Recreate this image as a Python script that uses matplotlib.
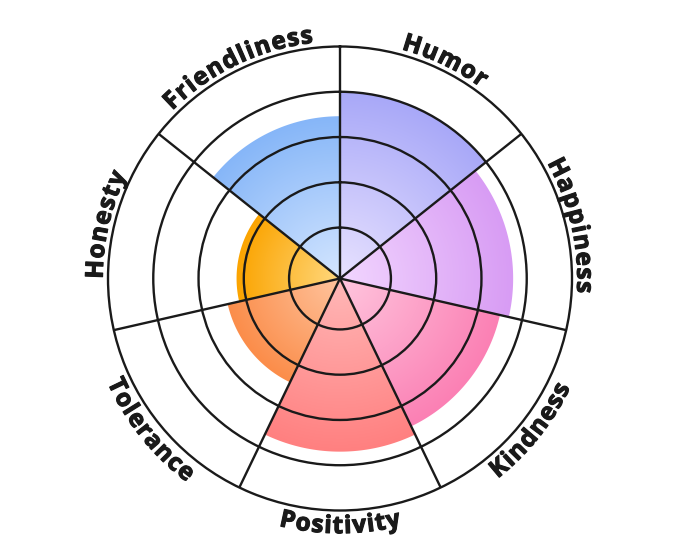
import numpy as np
import matplotlib
matplotlib.use('Agg')
import matplotlib.pyplot as plt
import matplotlib.patheffects as pe
from matplotlib import font_manager
from matplotlib.ft2font import FT2Font
from matplotlib.colors import to_rgb
from matplotlib.path import Path

# polar area chart, values on a 0-5 scale (rings at 1..5)
categories = ['Humor', 'Happiness', 'Kindness', 'Positivity', 'Tolerance', 'Honesty', 'Friendliness']
values = [4.0, 3.7, 3.5, 3.7, 2.42, 2.16, 3.46]
outer_colors = ['#a8a8f8', '#d89cf4', '#fb80b4', '#ff8080', '#fb8d4a', '#fba400', '#86b6f8']
inner_colors = ['#e8e2ff', '#f2d6ff', '#ffc6de', '#ffb8b8', '#ffc49e', '#ffd87e', '#d4e6ff']
rings = [1, 2, 3, 4]
r_max = 5
r_min = -0.125   # scale does not start exactly at the centre

W, H, DPI = 680, 557, 100
cx, cy, R = 340, 557 - 278.5, 232   # centre and outer radius in pixels
line_col = '#1a1a1a'

fig = plt.figure(figsize=(W / DPI, H / DPI), dpi=DPI)
rect = [(cx - R) / W, (cy - R) / H, 2 * R / W, 2 * R / H]

# background axes for the gradients and the curved labels
bg = fig.add_axes(rect)
bg.set_xlim(-1, 1)
bg.set_ylim(-1, 1)
bg.axis('off')

ax = fig.add_axes(rect, projection='polar')
ax.set_facecolor('none')
ax.set_theta_zero_location('N')
ax.set_theta_direction(-1)
ax.set_rlim(r_min, r_max)

n = len(categories)
width = 2 * np.pi / n
theta = np.arange(n) * width + width / 2
bars = ax.bar(theta, np.array(values) - r_min, width=width, bottom=r_min,
              color='none', linewidth=0)

# radial gradient for each bar, clipped to the bar's wedge
g = np.linspace(-1, 1, 700)
X, Y = np.meshgrid(g, g)
rr = np.hypot(X, Y)
for th, v, c_in, c_out in zip(theta, values, inner_colors, outer_colors):
    rb = (v - r_min) / (r_max - r_min)
    t = np.clip(rr / rb, 0, 1)[..., None]
    img = np.array(to_rgb(c_in)) + (np.array(to_rgb(c_out)) - np.array(to_rgb(c_in))) * t
    im = bg.imshow(img, extent=(-1, 1, -1, 1), origin='lower', interpolation='bilinear')
    a = np.linspace(th - width / 2, th + width / 2, 120)
    verts = np.vstack([[0, 0], np.column_stack([rb * np.sin(a), rb * np.cos(a)]), [0, 0]])
    im.set_clip_path(Path(verts, closed=True), transform=bg.transData)

ax.set_yticks(rings)
ax.set_yticklabels([])
ax.set_xticks(np.arange(n) * width)
ax.set_xticklabels([])
ax.tick_params(length=0)
ax.grid(True, color=line_col, linewidth=1.7)
ax.spines['polar'].set_color(line_col)
ax.spines['polar'].set_linewidth(1.7)

# curved labels, one character at a time
fs = 17.5
fp = font_manager.FontProperties(family='Open Sans', weight='bold', size=fs)
font = FT2Font(font_manager.findfont(fp))
font.set_size(fs, DPI)
fs_px = fs * DPI / 72
cap = 0.714 * fs_px
spacing = 1.2
r_mid = 246
bold = [pe.withStroke(linewidth=0.8, foreground=line_col)]

for label, th in zip(categories, theta):
    phi = np.degrees(th)
    advs = []
    for ch in label:
        glyph = font.load_char(ord(ch))
        advs.append(glyph.linearHoriAdvance / 65536)
    total = sum(advs) + spacing * (len(label) - 1)
    bottom = 90 < phi < 270
    r_b = r_mid + cap / 2 if bottom else r_mid - cap / 2
    sign = -1 if bottom else 1
    start = phi - sign * np.degrees(total / 2 / r_b)
    pos = 0
    for ch, a in zip(label, advs):
        ang = start + sign * np.degrees((pos + a / 2) / r_b)
        pos += a + spacing
        x = r_b / R * np.sin(np.radians(ang))
        y = r_b / R * np.cos(np.radians(ang))
        rot = 180 - ang if bottom else -ang
        bg.text(x, y, ch, fontproperties=fp, color=line_col, rotation=rot,
                rotation_mode='anchor', ha='center', va='baseline', clip_on=False,
                path_effects=bold)

fig.savefig('out.png', dpi=DPI)
